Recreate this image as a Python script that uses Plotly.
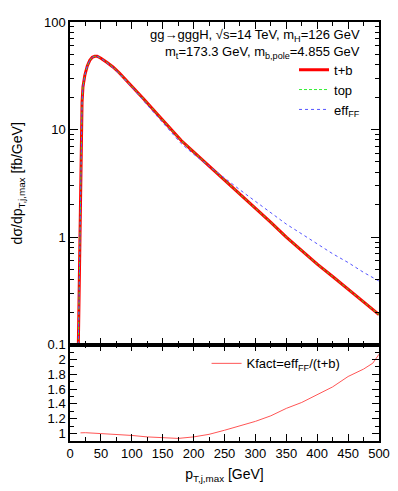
import plotly.graph_objects as go
from plotly.subplots import make_subplots

# ---- data ------------------------------------------------------------------

pt = [13.5, 15, 16.5, 18, 19.5, 21, 24, 28, 32, 36, 40, 44, 50, 60, 70, 80,
      100, 120, 140, 160, 180, 200, 225, 250, 275, 300, 325, 350, 375, 400,
      425, 450, 475, 500]

# t+b  [fb/GeV]
xs_tb = [0.1, 0.5, 2.0, 8.0, 18, 25, 32, 39, 44, 47, 48, 48, 46, 42, 38, 33.6,
         25.5, 19.0, 14.2, 10.6, 7.9, 6.2, 4.6, 3.4, 2.5, 1.85, 1.37, 1.0, 0.75,
         0.56, 0.43, 0.33, 0.25, 0.19]

# top only
xs_top = [0.1, 0.5, 2.0, 8.1, 18, 25, 32, 39, 44, 47, 48, 48, 46, 42, 38, 33.5,
          25.4, 19.0, 14.2, 10.6, 7.9, 6.2, 4.6, 3.4, 2.5, 1.85, 1.37, 1.0, 0.75,
          0.56, 0.43, 0.33, 0.25, 0.19]

# effective FF
xs_eff = [0.1, 0.5, 2.0, 8.1, 18, 25, 32, 39, 44, 47, 48, 48, 46, 41.6, 37.4, 32.8,
          24.9, 18.2, 13.4, 9.9, 7.4, 5.9, 4.55, 3.55, 2.75, 2.15, 1.69, 1.32,
          1.07, 0.86, 0.70, 0.58, 0.47, 0.39]

pt_k = [17, 25, 50, 75, 100, 125, 150, 175, 200, 225, 250, 275, 300, 325, 350,
        375, 400, 425, 450, 475, 490, 500]
kfact = [1.01, 1.012, 1.0, 0.99, 0.975, 0.955, 0.94, 0.935, 0.955, 0.99, 1.045,
         1.10, 1.165, 1.24, 1.34, 1.42, 1.53, 1.63, 1.77, 1.87, 1.95, 2.07]

ytop_vals = [0.1, 1, 10, 100]
ytop_text = ["0.1", "1", "10", "100"]
ybot_vals = [1, 1.2, 1.4, 1.6, 1.8, 2]
ybot_text = ["1", "1.2", "1.4", "1.6", "1.8", "2"]

FONT = "Liberation Sans, Arial, sans-serif"

# ---- figure ----------------------------------------------------------------

fig = make_subplots(rows=2, cols=1, shared_xaxes=True, vertical_spacing=0,
                    row_heights=[0.77, 0.23])

fig.add_trace(go.Scatter(x=pt, y=xs_tb, mode="lines", name="t+b",
                         line={"color": "#ff0000", "width": 3}), row=1, col=1)
fig.add_trace(go.Scatter(x=pt, y=xs_top, mode="lines", name="top",
                         line={"color": "#33ee33", "width": 1, "dash": "3px,2px"}),
              row=1, col=1)
fig.add_trace(go.Scatter(x=pt, y=xs_eff, mode="lines", name="eff<sub>FF</sub>",
                         line={"color": "#5555ff", "width": 1, "dash": "dot"}),
              row=1, col=1)
fig.add_trace(go.Scatter(x=pt_k, y=kfact, mode="lines",
                         name="Kfact=eff<sub>FF</sub>/(t+b)", legend="legend2",
                         line={"color": "#ff5555", "width": 1}), row=2, col=1)

axis_common = dict(showline=True, linecolor="black", linewidth=1.5, mirror="ticks",
                   ticks="inside", tickcolor="black", tickwidth=1, showgrid=False,
                   zeroline=False, tickfont={"size": 13, "color": "black"})

fig.update_xaxes(range=[0, 500], dtick=50, tick0=0, ticklen=7,
                 minor={"dtick": 25, "ticks": "inside", "ticklen": 4,
                        "tickcolor": "black", "showgrid": False},
                 **axis_common)
fig.update_xaxes(showticklabels=False, row=1, col=1)
fig.update_xaxes(title={"text": "p<sub>T,j,max</sub> [GeV]", "standoff": 9,
                        "font": {"size": 14, "color": "black"}}, row=2, col=1)

fig.update_yaxes(type="log", range=[-1, 2], tickvals=ytop_vals, ticktext=ytop_text,
                 ticklen=8,
                 minor={"tickvals": [m * 10 ** e for e in (-1, 0, 1) for m in range(2, 10)],
                        "ticks": "inside", "ticklen": 4, "tickcolor": "black",
                        "showgrid": False},
                 row=1, col=1, **axis_common)
fig.update_yaxes(range=[0.9, 2.2], tickvals=ybot_vals, ticktext=ybot_text, ticklen=7,
                 minor={"dtick": 0.1, "tick0": 0, "ticks": "inside", "ticklen": 4,
                        "tickcolor": "black", "showgrid": False},
                 row=2, col=1, **axis_common)

# the page body adds an 8px margin, so the figure is 8px smaller than the window
fig.update_layout(
    width=390, height=483, template="plotly_white",
    plot_bgcolor="white", paper_bgcolor="white",
    margin={"l": 62, "r": 19, "t": 7, "b": 50},
    font={"family": FONT, "size": 13, "color": "black"},
    legend={"x": 0.725, "y": 0.922, "xanchor": "left", "yanchor": "top",
            "bgcolor": "rgba(0,0,0,0)", "font": {"size": 13}},
    legend2={"x": 0.442, "y": 0.221, "xanchor": "left", "yanchor": "top",
             "bgcolor": "rgba(0,0,0,0)", "font": {"size": 13}},
)

# header text and y label
fig.add_annotation(text="gg→gggH, √s=14 TeV, m<sub>H</sub>=126 GeV",
                   xref="paper", yref="paper", x=0.945, y=0.967,
                   xanchor="right", yanchor="middle", showarrow=False,
                   font={"size": 13})
fig.add_annotation(text="m<sub>t</sub>=173.3 GeV, m<sub>b,pole</sub>=4.855 GeV",
                   xref="paper", yref="paper", x=0.945, y=0.928,
                   xanchor="right", yanchor="middle", showarrow=False,
                   font={"size": 13})
fig.add_annotation(text="dσ/dp<sub>T,j,max</sub> [fb/GeV]", textangle=-90,
                   xref="paper", yref="paper", x=-0.168, y=0.615,
                   xanchor="center", yanchor="middle", showarrow=False,
                   font={"size": 14})

fig.write_html("out.html")
